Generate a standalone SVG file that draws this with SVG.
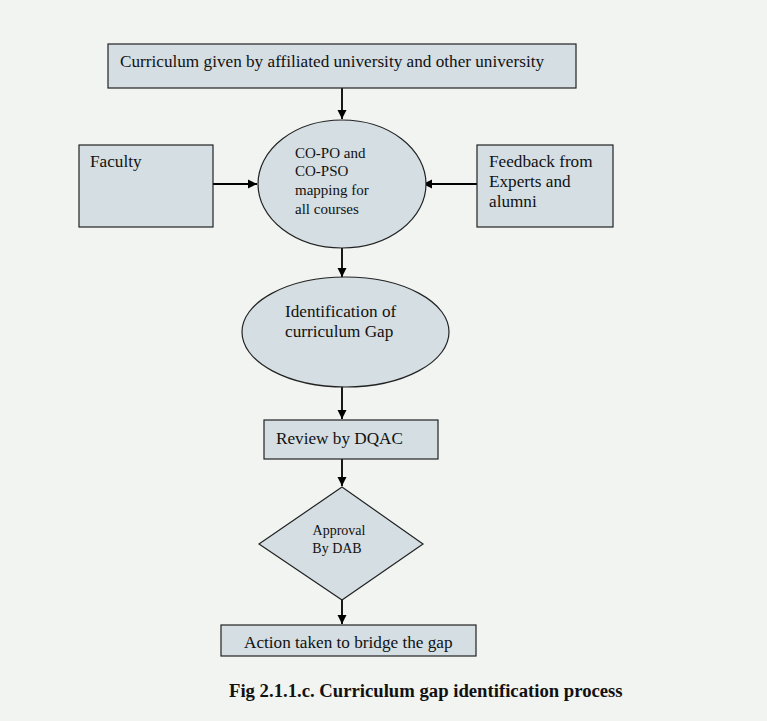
<svg xmlns="http://www.w3.org/2000/svg" width="767" height="721" viewBox="0 0 767 721">
<style>
.shape{fill:#d4dee3;stroke:#222;stroke-width:1.2}
.t{font-family:"Liberation Serif","Times New Roman",serif;font-size:17.2px;fill:#111}
.s{font-size:15px}
.xs{font-size:14px}
.cap{font-family:"Liberation Serif","Times New Roman",serif;font-size:18.7px;font-weight:bold;fill:#111}
.c{stroke:#000;stroke-width:1.8;fill:none;marker-end:url(#ah)}
</style>
<defs>
<marker id="ah" markerWidth="10" markerHeight="10" refX="9" refY="5" orient="auto" markerUnits="userSpaceOnUse">
<path d="M0,0.5 L9,5 L0,9.5 Z" fill="#000"/>
</marker>
</defs>
<rect width="767" height="721" fill="#f1f4f0"/>
<g id="connectors">
<line class="c" x1="342" y1="88" x2="342" y2="119"/>
<line class="c" x1="213" y1="184" x2="257" y2="184"/>
<line class="c" x1="477" y1="184" x2="423" y2="184"/>
<line class="c" x1="342" y1="248" x2="342" y2="277"/>
<line class="c" x1="342" y1="387" x2="342" y2="419"/>
<line class="c" x1="342" y1="459" x2="342" y2="486"/>
<line class="c" x1="342" y1="600" x2="342" y2="624"/>
</g>
<g id="curriculum">
<rect class="shape" x="108" y="44" width="468" height="44"/>
<text class="t" x="120" y="67">Curriculum given by affiliated university and other university</text>
</g>
<g id="faculty">
<rect class="shape" x="79" y="145" width="134" height="82"/>
<text class="t" x="90" y="167">Faculty</text>
</g>
<g id="feedback">
<rect class="shape" x="477" y="145" width="136" height="82"/>
<text class="t" x="489" y="167">Feedback from</text>
<text class="t" x="489" y="187">Experts and</text>
<text class="t" x="489" y="207">alumni</text>
</g>
<g id="mapping">
<ellipse class="shape" cx="342" cy="184" rx="84" ry="64"/>
<text class="t s" x="295" y="158">CO-PO and</text>
<text class="t s" x="295" y="176">CO-PSO</text>
<text class="t s" x="295" y="195">mapping for</text>
<text class="t s" x="295" y="214">all courses</text>
</g>
<g id="identification">
<ellipse class="shape" cx="345.5" cy="332" rx="103.5" ry="55"/>
<text class="t" x="285" y="317">Identification of</text>
<text class="t" x="285" y="337">curriculum Gap</text>
</g>
<g id="review">
<rect class="shape" x="264" y="420" width="174" height="39"/>
<text class="t" x="276" y="444">Review by DQAC</text>
</g>
<g id="approval">
<polygon class="shape" points="342,487 423,544 342,600 259,544"/>
<text class="t xs" x="339" y="535" text-anchor="middle">Approval</text>
<text class="t xs" x="337" y="553" text-anchor="middle">By DAB</text>
</g>
<g id="action">
<rect class="shape" x="221" y="625" width="255" height="31"/>
<text class="t" x="244" y="648">Action taken to bridge the gap</text>
</g>
<text class="cap" x="229" y="697">Fig 2.1.1.c. Curriculum gap identification process</text>
</svg>
